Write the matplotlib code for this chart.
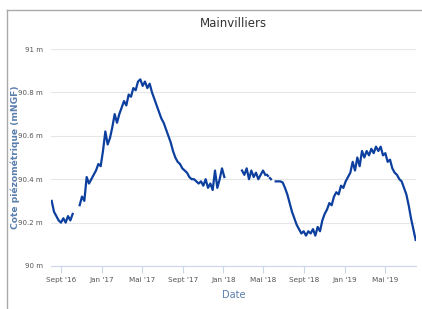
import numpy as np
import pandas as pd
import matplotlib
matplotlib.use('Agg')
import matplotlib.pyplot as plt
from matplotlib.lines import Line2D

plt.rcParams['font.family'] = ['Liberation Sans Narrow', 'DejaVu Sans']

# niveaux hebdomadaires (m NGF)
seg1_start = '2016-08-04'
seg1 = [90.30, 90.25, 90.23, 90.21, 90.20, 90.22, 90.20, 90.23, 90.21, 90.24]

seg2_start = '2016-10-27'
seg2 = [90.28, 90.32, 90.30, 90.41, 90.38, 90.40, 90.42, 90.44, 90.47, 90.46,
        90.53, 90.62, 90.56, 90.59, 90.64, 90.70, 90.66, 90.70, 90.73, 90.76,
        90.74, 90.79, 90.78, 90.82, 90.81, 90.85, 90.86, 90.83, 90.85, 90.82,
        90.84, 90.80, 90.77, 90.74, 90.71, 90.68, 90.66, 90.63, 90.60, 90.57,
        90.53, 90.50, 90.48, 90.47, 90.45, 90.44, 90.43, 90.41, 90.40, 90.40,
        90.39, 90.38, 90.39, 90.37, 90.40, 90.36, 90.38, 90.35, 90.44, 90.36,
        90.40, 90.45, 90.41]

seg3_start = '2018-02-26'
seg3 = [90.44, 90.42, 90.45, 90.40, 90.44, 90.41, 90.43, 90.40, 90.42, 90.44,
        90.42]

# points isolés mai 2018
dots_dates = ['2018-05-12', '2018-05-15', '2018-05-21', '2018-05-24']
dots = [90.42, 90.415, 90.405, 90.40]

seg4_start = '2018-06-07'
seg4 = [90.39, 90.39, 90.39, 90.385, 90.36, 90.33, 90.29, 90.25, 90.22, 90.19,
        90.17, 90.15, 90.16, 90.14, 90.16, 90.15, 90.17, 90.14, 90.18, 90.16,
        90.21, 90.24, 90.26, 90.29, 90.28, 90.32, 90.34, 90.33, 90.37, 90.36,
        90.39, 90.41, 90.43, 90.48, 90.44, 90.50, 90.46, 90.53, 90.50, 90.53,
        90.51, 90.54, 90.52, 90.55, 90.53, 90.55, 90.51, 90.52, 90.48, 90.49,
        90.45, 90.43, 90.42, 90.40, 90.39, 90.36, 90.33, 90.28, 90.22, 90.17,
        90.12]

line_color = '#0d3f9f'
label_color = '#5b7fae'

fig = plt.figure(figsize=(4.22, 3.09), dpi=100)
ax = fig.add_axes([51 / 422, 1 - 266 / 309, 365 / 422, 217 / 309])

for start, vals in [(seg1_start, seg1), (seg2_start, seg2), (seg3_start, seg3), (seg4_start, seg4)]:
    d = pd.date_range(start, periods=len(vals), freq='7D')
    ax.plot(d, vals, color=line_color, lw=1.6)
dd = pd.to_datetime(dots_dates)
ax.plot(dd[:2], dots[:2], color=line_color, lw=1.6)
ax.plot(dd[2:], dots[2:], color=line_color, lw=1.6)

ax.set_ylim(90, 91)
ax.set_yticks([90, 90.2, 90.4, 90.6, 90.8, 91])
ax.set_yticklabels(['90 m', '90.2 m', '90.4 m', '90.6 m', '90.8 m', '91 m'])
ax.set_xlim(pd.Timestamp('2016-08-02'), pd.Timestamp('2019-08-02'))
xt = pd.to_datetime(['2016-09-01', '2017-01-01', '2017-05-01', '2017-09-01', '2018-01-01',
                     '2018-05-01', '2018-09-01', '2019-01-01', '2019-05-01'])
ax.set_xticks(xt)
ax.set_xticklabels(["Sept '16", "Jan '17", "Mai '17", "Sept '17", "Jan '18",
                    "Mai '18", "Sept '18", "Jan '19", "Mai '19"])

ax.grid(axis='y', color='#e6e6e6', lw=0.8)
ax.set_axisbelow(True)
for s in ['top', 'right', 'left']:
    ax.spines[s].set_visible(False)
ax.spines['bottom'].set_color('#ccd6eb')
ax.tick_params(axis='y', length=0, labelsize=5, labelcolor='#555555', pad=6)
ax.tick_params(axis='x', length=5, color='#ccd6eb', labelsize=5.2, labelcolor='#555555', pad=3)

ax.set_title('Mainvilliers', fontsize=8.5, color='#333333', pad=16)
ax.set_xlabel('Date', fontsize=7, color=label_color, labelpad=5)
fig.text(15 / 422, 1 - 157 / 309, 'Cote piézométrique (mNGF)', rotation=90, ha='center', va='center',
         fontsize=6.6, color=label_color, fontweight='bold', family='DejaVu Sans')

fig.add_artist(Line2D([7 / 422, 7 / 422], [0, 1 - 10 / 309], color='#aaaaaa', lw=1))
fig.add_artist(Line2D([7 / 422, 1], [1 - 10 / 309, 1 - 10 / 309], color='#aaaaaa', lw=1))

fig.savefig('out.png', dpi=100)
